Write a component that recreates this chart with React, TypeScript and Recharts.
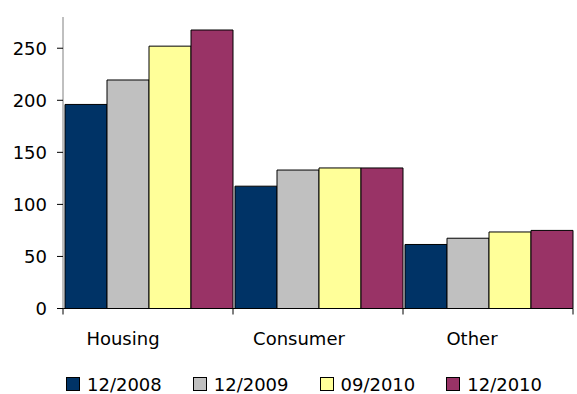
import React from 'react';
import { BarChart, Bar, XAxis, YAxis, Legend } from 'recharts';

const categories = ['Housing', 'Consumer', 'Other'];
const seriesNames = ['12/2008', '12/2009', '09/2010', '12/2010'];
const v2008 = [196, 117.5, 61.5];
const v2009 = [219.5, 133, 67.5];
const v2010sep = [252, 135, 73.5];
const v2010dec = [267.5, 135, 75];
const colors = ['#003366', '#C0C0C0', '#FFFF99', '#993366'];
const yTicks = [0, 50, 100, 150, 200, 250];

const keys = ['a', 'b', 'c', 'd'];
const data = categories.map((name, i) => ({
  name,
  a: v2008[i],
  b: v2009[i],
  c: v2010sep[i],
  d: v2010dec[i],
}));

const W = 577;
const H = 394;
const LEFT = 63;
const RIGHT = 4;
const bandW = (W - LEFT - RIGHT) / categories.length;
const font = '"DejaVu Sans", Verdana, sans-serif';
// the category labels sit a bit left of the band centre in the original
const labelShift = [-25, -19, -16];

// x ticks: label near the middle, tick marks on the category borders
function CatTick(props: any) {
  const { x, y, payload, index } = props;
  return (
    <g>
      <line x1={x - bandW / 2} x2={x - bandW / 2} y1={y} y2={y + 6} stroke="#000" />
      {index === categories.length - 1 && (
        <line x1={x + bandW / 2} x2={x + bandW / 2} y1={y} y2={y + 6} stroke="#000" />
      )}
      <text x={x + (labelShift[index] || 0)} y={y + 36} textAnchor="middle" fontSize={18} fontFamily={font} fill="#000">
        {payload.value}
      </text>
    </g>
  );
}

// y ticks drawn by hand so size/offset are exact
function ValTick(props: any) {
  const { y, payload } = props;
  return (
    <g>
      <line x1={LEFT - 6} x2={LEFT} y1={y} y2={y} stroke="#000" />
      <text x={LEFT - 16} y={y + 6.5} textAnchor="end" fontSize={18} fontFamily={font} fill="#000">
        {payload.value}
      </text>
    </g>
  );
}

function LegendBox() {
  return (
    <div style={{ display: 'flex', paddingLeft: 66, paddingTop: 20, fontFamily: font, fontSize: 18, color: '#000' }}>
      {seriesNames.map((s, i) => (
        <div key={s} style={{ width: 131.5, display: 'flex', alignItems: 'center' }}>
          <span style={{ width: 12, height: 12, background: colors[i], border: '1px solid #000', marginRight: 7, display: 'inline-block' }} />
          <span>{s}</span>
        </div>
      ))}
    </div>
  );
}

export default function App() {
  return (
    <div style={{ position: 'absolute', left: 0, top: 0, width: W, height: H, background: '#fff' }}>
      <BarChart
        width={W}
        height={H}
        data={data}
        margin={{ top: 17, right: RIGHT, left: 0, bottom: 0.5 }}
        barCategoryGap={2}
        barGap={0}
      >
        <XAxis
          dataKey="name"
          height={45}
          tickSize={0}
          tickMargin={0}
          tick={<CatTick />}
          axisLine={{ stroke: '#000' }}
          interval={0}
        />
        <YAxis
          width={LEFT}
          domain={[0, 280]}
          ticks={yTicks}
          tickLine={false}
          axisLine={{ stroke: '#808080' }}
          tick={<ValTick />}
        />
        <Legend verticalAlign="bottom" height={40} content={<LegendBox />} />
        {keys.map((k, i) => (
          <Bar key={k} dataKey={k} name={seriesNames[i]} fill={colors[i]} stroke="#000" strokeWidth={1} isAnimationActive={false} />
        ))}
      </BarChart>
    </div>
  );
}
